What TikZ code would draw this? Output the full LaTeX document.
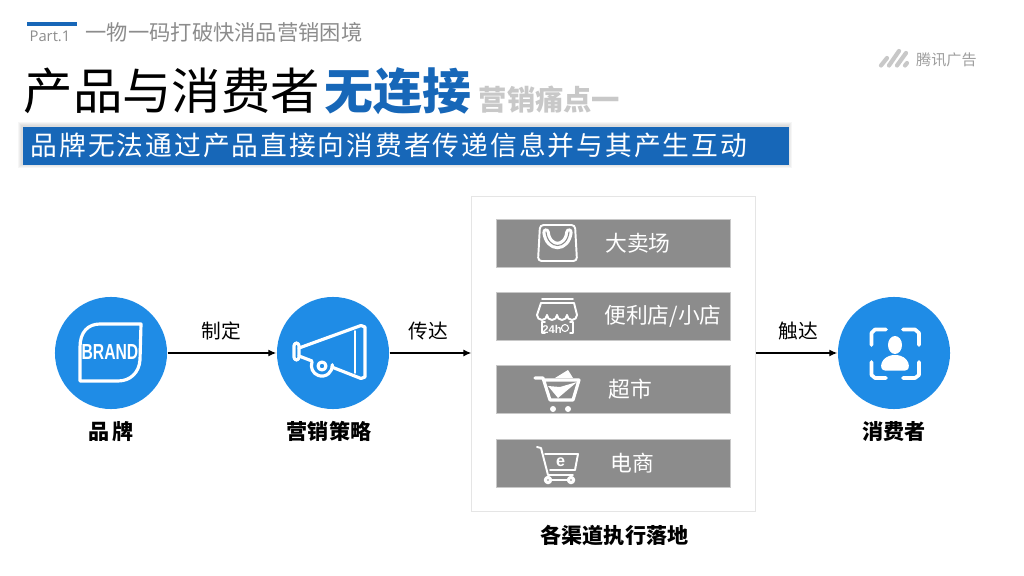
\documentclass[tikz,border=0pt]{standalone}
\usepackage{fontspec}
\usepackage{xcolor}
\usepackage{tikz}
\usetikzlibrary{arrows.meta}
\setmainfont{Noto Sans CJK SC}
\newfontfamily\partfont{Open Sans}
\newfontfamily\logofont{Liberation Sans}
\definecolor{adblue}{HTML}{1f8ce6}
\definecolor{addeep}{HTML}{1767b8}
\definecolor{adgray}{HTML}{8c8c8c}
\definecolor{adlight}{HTML}{c8c8c8}
\tikzset{
  roundel/.style={circle,fill=adblue,minimum size=1.12cm,inner sep=0pt},
  flowarrow/.style={draw=black,line width=0.4pt,-{Latex[length=0.08cm,width=0.07cm]}},
  flowlabel/.style={inner sep=0pt,font=\fontsize{5.6}{6}\selectfont},
  capt/.style={inner sep=0pt,font=\fontsize{6}{7}\selectfont\bfseries},
  rowbar/.style={fill=adgray,draw=adlight,line width=0.2pt,minimum width=2.34cm,minimum height=0.48cm,inner sep=0pt},
  rowlabel/.style={inner sep=0pt,text=white,font=\fontsize{6.2}{7}\selectfont},
  iconline/.style={draw=white,line width=0.55pt,line join=round,line cap=round},
  iconthick/.style={draw=white,line width=0.9pt,line join=round,line cap=round}
}
\begin{document}
\begin{tikzpicture}[x=0.01cm,y=-0.01cm]
  \useasboundingbox (0,0) rectangle (1024,576);
  \fill[addeep] (27,22) rectangle (77,26.5);
  \node[anchor=center,inner sep=0pt,text=adgray,font=\partfont\fontsize{4.2}{5}\selectfont] (partno) at (50,36.5) {Part.1};
  \node[anchor=west,inner sep=0pt,text=adgray,font=\fontsize{6.05}{7}\selectfont] (headline) at (85,32) {一物一码打破快消品营销困境};
  \node[anchor=west,inner sep=0pt,font=\fontsize{14.05}{15}\selectfont] (titlemain) at (23,91) {产品与消费者};
  \node[anchor=west,inner sep=0pt,text=addeep,font=\fontsize{13.9}{15}\selectfont\bfseries] (titlekey) at (324,91) {无连接};
  \node[anchor=west,inner sep=0pt,text=adlight,font=\fontsize{8.05}{9}\selectfont\bfseries] (titlesub) at (478,100) {营销痛点一};
  \foreach \g in {4,3,2,1}
    \fill[black,opacity=0.035] (22-\g,126-\g) rectangle (788+\g,164+\g);
  \node[anchor=north west,fill=addeep,minimum width=7.66cm,minimum height=0.38cm,inner sep=0pt] (slogan) at (22,126) {};
  \node[anchor=west,inner sep=0pt,text=white,font=\fontsize{7.6}{9}\selectfont\addfontfeature{LetterSpace=7.5}] (slogantext) at (30,145) {品牌无法通过产品直接向消费者传递信息并与其产生互动};

  \node[roundel] (brand) at (111,353) {};
  \node[roundel] (strategy) at (333,353) {};
  \node[roundel] (consumer) at (894,353) {};
  \node[fill=white,draw=black!10,line width=0.3pt,minimum width=2.83cm,minimum height=3.14cm,inner sep=0pt] (channels) at (613.5,354) {};

  \foreach \rowname/\rowy/\rowx/\rowtext in {mall/243/638/大卖场,store/316/663/{便利店/小店},market/389.5/630/超市,online/463/632/电商}{
    \node[rowbar] (\rowname) at (613.5,\rowy) {};
    \node[rowlabel] (\rowname text) at (\rowx,\rowy) {\rowtext};
  }

  \draw[flowarrow] (brand) -- (strategy);
  \draw[flowarrow] (strategy.east) -- (strategy.east -| channels.west);
  \draw[flowarrow] (consumer.west -| channels.east) -- (consumer.west);

  \node[flowlabel] (makelabel) at (221,331) {制定};
  \node[flowlabel] (passlabel) at (428,331) {传达};
  \node[flowlabel] (reachlabel) at (798,331) {触达};
  \node[capt] (brandname) at (111,432) {品\,牌};
  \node[capt] (strategyname) at (329,431) {营销策略};
  \node[capt] (consumername) at (894,431) {消费者};
  \node[capt] (channelname) at (614.5,535) {各渠道执行落地};

  \draw[iconthick] (80,381) -- (80,347) .. controls (80,332) and (88,324) .. (100,324) -- (141,324) -- (140,360) .. controls (139,373) and (130,381) .. (118,381) -- cycle;
  \node[inner sep=0pt,text=white,xscale=0.72,transform shape,font=\logofont\fontsize{6.2}{6}\selectfont\bfseries] (brandmark) at (110,352) {BRAND};

  \draw[iconthick,rounded corners=0.8pt] (294,343) rectangle (299,360);
  \draw[iconthick] (299,348) -- (361,325.5) -- (365,327) -- (365,377) -- (361,378.5) -- (333,367.5);
  \draw[iconthick] (299,356) -- (312,361);
  \draw[iconline] (355,331) -- (355,373);
  \draw[iconthick] (312,362) arc[start angle=200,end angle=-5,radius=10.5];
  \draw[iconthick] (322,366) circle[radius=4];

  \draw[iconthick,line width=1.05pt] (886,329.5) -- (875,329.5) -- (871.5,333) -- (871.5,345);
  \draw[iconthick,line width=1.05pt] (903,329.5) -- (915,329.5) -- (919,333) -- (919,345);
  \draw[iconthick,line width=1.05pt] (886,378) -- (875,378) -- (871.5,375) -- (871.5,362);
  \draw[iconthick,line width=1.05pt] (903,378) -- (915,378) -- (919,375) -- (919,362);
  \fill[white] (895,345) ellipse[x radius=7,y radius=9];
  \fill[white] (885,370.5) .. controls (878,370.5) and (880,355) .. (895,355) .. controls (910,355) and (912,370.5) .. (905,370.5) -- cycle;

  \draw[iconline,rounded corners=1pt] (540,225) -- (575,225) -- (577,261) -- (538,261) -- cycle;
  \draw[draw=white,line width=0.9pt,double=adgray,double distance=0.3pt,line cap=round] (546,232) .. controls (548,250) and (567,250) .. (569,232);

  \draw[iconline] (542,299) -- (573,299);
  \draw[iconline] (541,303) -- (574,303) -- (577,315);
  \draw[iconline] (541,303) -- (537,315);
  \foreach \sx in {537,547,557,567}
    \draw[iconline] (\sx,315) arc[start angle=180,end angle=0,radius=5];
  \draw[iconline] (545,322) -- (542,322) -- (542,333) -- (545,333);
  \draw[iconline] (570,322) -- (573,322) -- (573,333) -- (570,333);
  \node[inner sep=0pt,text=white,font=\logofont\fontsize{3.2}{3}\selectfont\bfseries] (storehours) at (552,329.5) {24h};
  \draw[white,line width=0.3pt] (565,328) circle[radius=3.5];

  \draw[iconthick] (535,378) -- (543,378) -- (550,400) -- (573,400) -- (579,380) -- (544,380);
  \fill[white] (548,386) -- (558,398) -- (577,382) -- (560,387) -- cycle;
  \fill[white] (555,378) -- (568,370) -- (573,378) -- cycle;
  \fill[white] (553,409) circle[radius=3];
  \fill[white] (568,409) circle[radius=3];

  \draw[iconline] (537,447) -- (541,448) -- (548,475) -- (573,475);
  \draw[iconline] (545,454) -- (578,454) -- (575,470) -- (550,470);
  \node[inner sep=0pt,text=white,font=\logofont\fontsize{4.6}{5}\selectfont\bfseries] (shopletter) at (560.5,462) {e};
  \draw[iconthick] (548,480) circle[radius=2.6];
  \draw[iconthick] (571,480) circle[radius=2.6];
  \draw[iconline] (551,480) -- (568,480);

  \draw[adlight,line width=1.2pt,line cap=round] (881,65.5) -- (887,58);
  \draw[adlight,line width=1.2pt,line cap=round] (889,65.5) -- (899,51);
  \draw[adlight,line width=1.2pt,line cap=round] (897,65.5) -- (906,53);
  \draw[adlight,line width=1.2pt,line cap=round] (905,65.5) -- (907,63);
  \node[anchor=west,inner sep=0pt,text=black!38,font=\fontsize{4.3}{5}\selectfont] (adlogo) at (915.5,60) {腾讯广告};
\end{tikzpicture}
\end{document}
